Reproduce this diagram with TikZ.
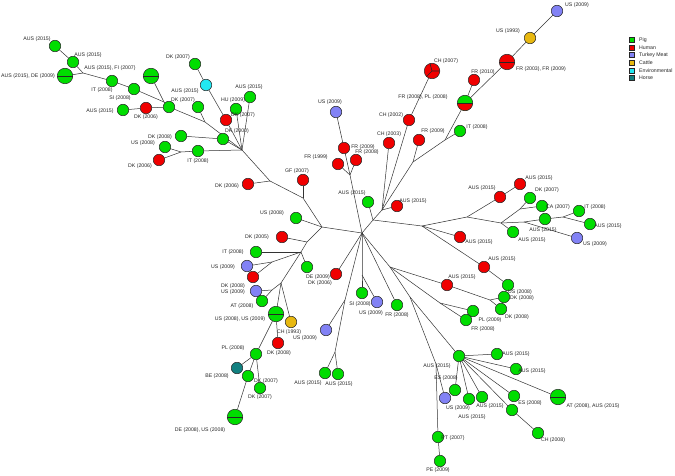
\documentclass[tikz,border=0pt]{standalone}
\usepackage{fontspec}
\setmainfont{Liberation Sans}
\usepackage{tikz}
\usetikzlibrary{backgrounds}
\definecolor{cPig}{HTML}{00DD00}
\definecolor{cHuman}{HTML}{F00000}
\definecolor{cTurkey}{HTML}{8282F5}
\definecolor{cCattle}{HTML}{E8B810}
\definecolor{cEnv}{HTML}{22E8F2}
\definecolor{cHorse}{HTML}{118080}

\begin{document}
\begin{tikzpicture}[x=1pt, y=-1pt,
  vtx/.style={circle, draw=black!85, line width=0.5pt, minimum size=11.5pt, inner sep=0pt},
  big/.style={minimum size=15.5pt},
  pig/.style={vtx, fill=cPig},
  human/.style={vtx, fill=cHuman},
  turkey/.style={vtx, fill=cTurkey},
  cattle/.style={vtx, fill=cCattle},
  env/.style={vtx, fill=cEnv},
  horse/.style={vtx, fill=cHorse},
  lbl/.style={font=\fontsize{5.2}{6}\selectfont, inner sep=0pt, text=black!85},
  link/.style={black!80, line width=0.5pt},
  cut/.style={black!85, line width=0.6pt},
  legbox/.style={draw=black!85, line width=0.4pt, minimum size=5pt, inner sep=0pt}
]
\useasboundingbox (0,0) rectangle (675,476);

% upper left branch
\node[pig] (a1) at (55,46) {};
\node[pig] (a2) at (73,62) {};
\node[pig, big] (a3) at (65,76) {};
\coordinate (ja1) at (83,73);
\node[pig] (a4) at (112,81) {};
\node[pig, big] (a5) at (151,76) {};
\node[pig] (a6) at (134,89) {};
\coordinate (ja2) at (164,102);
\node[pig] (a7) at (169,107) {};
\node[human] (a8) at (146,108) {};
\node[pig] (a9) at (123,110) {};
\node[pig] (a10) at (198,107) {};
\coordinate (ja3) at (205,122);
\node[pig] (a11) at (195,64) {};
\node[env] (a12) at (206,85) {};
\node[human] (a13) at (226,120) {};
\node[pig] (a14) at (236,109) {};
\node[pig] (a15) at (250,97) {};
\coordinate (ja4) at (242,150);
\node[pig] (a16) at (223,139) {};
\node[pig] (a17) at (181,136) {};
\node[pig] (a18) at (165,147) {};
\node[human] (a19) at (159,160) {};
\coordinate (ja5) at (181,152);
\node[pig] (a20) at (198,151) {};

\node[lbl] (a1t) at (37,39) {AUS (2015)};
\node[lbl] (a2t) at (88,55) {AUS (2015)};
\node[lbl] (a3t) at (28,76) {AUS (2015), DE (2009)};
\node[lbl] (a4t) at (102,90) {IT (2008)};
\node[lbl] (a5t) at (110,68) {AUS (2015), FI (2007)};
\node[lbl] (a6t) at (120,98) {SI (2008)};
\node[lbl] (a7t) at (183,100) {DK (2007)};
\node[lbl] (a8t) at (146,117) {DK (2006)};
\node[lbl] (a9t) at (100,111) {AUS (2015)};
\node[lbl] (a10t) at (185,91) {AUS (2015)};
\node[lbl] (a11t) at (178,57) {DK (2007)};
\node[lbl] (a13t) at (243,115) {DK (2007)};
\node[lbl] (a14t) at (233,100) {HU (2009)};
\node[lbl] (a15t) at (249,87) {AUS (2015)};
\node[lbl] (a16t) at (237,131) {DK (2000)};
\node[lbl] (a17t) at (160,137) {DK (2008)};
\node[lbl] (a18t) at (143,143) {US (2008)};
\node[lbl] (a19t) at (140,166) {DK (2006)};
\node[lbl] (a20t) at (198,161) {IT (2008)};

% left middle branch
\coordinate (ja6) at (270,181);
\node[human] (a21) at (248,184) {};
\coordinate (ja7) at (303,198);
\node[human] (a22) at (303,180) {};
\coordinate (ja8) at (322,227);
\node[pig] (a23) at (296,218) {};
\coordinate (ja9) at (307,242);
\node[human] (a24) at (282,237) {};
\coordinate (ja10) at (301,252);
\node[pig] (a25) at (256,252) {};
\coordinate (ja11) at (272,262);
\node[turkey] (a26) at (247,266) {};
\node[human] (a27) at (253,277) {};
\node[pig] (a28) at (307,267) {};
\node[human] (a29) at (336,274) {};
\coordinate (ja12) at (281,283);
\coordinate (ja13) at (272,290);
\node[turkey] (a30) at (256,291) {};
\node[pig] (a31) at (262,301) {};
\node[pig, big] (a32) at (276,314) {};
\node[cattle] (a33) at (291,322) {};
\node[human] (a34) at (278,343) {};
\node[pig] (a35) at (256,354) {};
\node[horse] (a36) at (237,368) {};
\node[pig] (a37) at (248,376) {};
\node[pig] (a38) at (260,388) {};
\node[pig, big] (a39) at (235,417) {};

\node[lbl] (a21t) at (227,186) {DK (2006)};
\node[lbl] (a22t) at (297,171) {GF (2007)};
\node[lbl] (a23t) at (272,213) {US (2008)};
\node[lbl] (a24t) at (257,237) {DK (2005)};
\node[lbl] (a25t) at (233,252) {IT (2008)};
\node[lbl] (a26t) at (223,267) {US (2009)};
\node[lbl] (a28t) at (318,277) {DE (2009)};
\node[lbl] (a29t) at (320,283) {DK (2006)};
\node[lbl] (a30t) at (233,286) {DK (2008)};
\node[lbl] (a30u) at (233,292) {US (2009)};
\node[lbl] (a31t) at (242,306) {AT (2008)};
\node[lbl] (a32t) at (240,319) {US (2008), US (2009)};
\node[lbl] (a33t) at (289,332) {CH (1993)};
\node[lbl] (a34t) at (279,353) {DK (2008)};
\node[lbl] (a35t) at (233,348) {PL (2008)};
\node[lbl] (a36t) at (217,376) {BE (2008)};
\node[lbl] (a37t) at (266,381) {DK (2007)};
\node[lbl] (a38t) at (260,397) {DK (2007)};
\node[lbl] (a39t) at (200,430) {DE (2008), US (2008)};

% centre and upper branches
\coordinate (C) at (362,233);
\node[turkey] (b1) at (336,112) {};
\node[human] (b2) at (344,148) {};
\node[human] (b3) at (338,164) {};
\node[human] (b4) at (356,160) {};
\coordinate (jb1) at (350,175);
\node[pig] (b5) at (368,202) {};
\coordinate (jb2) at (373,220);
\node[human] (b6) at (397,206) {};
\coordinate (jb3) at (382,210);
\node[human] (b7) at (389,143) {};
\node[human] (b8) at (409,120) {};
\node[human, big] (b9) at (432,71) {};
\coordinate (jb4) at (413,162);
\node[human] (b10) at (419,140) {};
\coordinate (jb5) at (445,140);
\node[pig] (b11) at (460,131) {};
\node[vtx, big, fill=cPig, path picture={
  \fill[cHuman] (path picture bounding box.west) rectangle (path picture bounding box.south east);}]
  (b12) at (465,103) {};
\node[human] (b13) at (474,80) {};
\node[human, big] (b14) at (507,62) {};
\node[cattle] (b15) at (530,38) {};
\node[turkey] (b16) at (557,11) {};

\node[lbl] (b1t) at (330,102) {US (2009)};
\node[lbl] (b2t) at (363,147) {FR (2009)};
\node[lbl] (b3t) at (316,157) {FR (1999)};
\node[lbl] (b4t) at (367,152) {FR (2008)};
\node[lbl] (b5t) at (352,193) {AUS (2015)};
\node[lbl] (b6t) at (413,201) {AUS (2015)};
\node[lbl] (b7t) at (389,134) {CH (2003)};
\node[lbl] (b8t) at (391,115) {CH (2002)};
\node[lbl] (b9t) at (446,61) {CH (2007)};
\node[lbl] (b10t) at (433,131) {FR (2009)};
\node[lbl] (b11t) at (477,127) {IT (2008)};
\node[lbl] (b12t) at (423,97) {FR (2008), PL (2008)};
\node[lbl] (b13t) at (483,72) {FR (2010)};
\node[lbl] (b14t) at (541,69) {FR (2003), FR (2009)};
\node[lbl] (b15t) at (508,31) {US (1993)};
\node[lbl] (b16t) at (577,5) {US (2009)};

% right branch
\coordinate (jc1) at (422,226);
\coordinate (jc2) at (467,217);
\node[human] (c1) at (500,197) {};
\node[human] (c2) at (520,184) {};
\coordinate (jc3) at (501,223);
\coordinate (jc4) at (520,209);
\node[pig] (c3) at (530,198) {};
\node[pig] (c4) at (542,206) {};
\node[pig] (c5) at (545,219) {};
\node[pig] (c6) at (513,232) {};
\coordinate (jc5) at (563,217);
\coordinate (jc6) at (524,222);
\node[pig] (c7) at (579,211) {};
\node[pig] (c8) at (590,224) {};
\node[turkey] (c9) at (577,238) {};
\node[human] (c10) at (460,237) {};
\node[human] (c11) at (484,267) {};
\node[pig] (c12) at (508,285) {};

\node[lbl] (c1t) at (482,188) {AUS (2015)};
\node[lbl] (c2t) at (539,178) {AUS (2015)};
\node[lbl] (c3t) at (547,190) {DK (2007)};
\node[lbl] (c4t) at (558,207) {CA (2007)};
\node[lbl] (c5t) at (543,230) {AUS (2015)};
\node[lbl] (c6t) at (532,240) {AUS (2015)};
\node[lbl] (c7t) at (595,207) {IT (2008)};
\node[lbl] (c8t) at (608,226) {AUS (2015)};
\node[lbl] (c9t) at (595,244) {US (2009)};
\node[lbl] (c10t) at (479,242) {AUS (2015)};
\node[lbl] (c11t) at (502,259) {AUS (2015)};
\node[lbl] (c12t) at (520,292) {US (2008)};

% lower right branch
\coordinate (jd1) at (390,267);
\node[human] (d1) at (447,285) {};
\coordinate (jd2) at (490,300);
\node[pig] (d2) at (504,297) {};
\node[pig] (d3) at (501,309) {};
\coordinate (jd3) at (440,303);
\node[pig] (d4) at (473,311) {};
\node[pig] (d5) at (466,320) {};
\node[pig] (d6) at (397,305) {};
\coordinate (jd5) at (410,297);
\coordinate (jd4) at (436,364);
\node[pig] (e1) at (459,356) {};
\node[pig] (e2) at (497,354) {};
\node[pig] (e3) at (516,369) {};
\node[pig, big] (e4) at (558,397) {};
\node[pig] (e5) at (514,396) {};
\node[pig] (e6) at (512,410) {};
\node[pig] (e7) at (538,433) {};
\node[pig] (e8) at (482,397) {};
\node[pig] (e9) at (469,399) {};
\node[pig] (e10) at (455,390) {};
\node[turkey] (e11) at (445,398) {};
\node[pig] (e12) at (438,437) {};
\node[pig] (e13) at (440,461) {};

\node[lbl] (d1t) at (462,277) {AUS (2015)};
\node[lbl] (d2t) at (522,298) {DK (2008)};
\node[lbl] (d3t) at (517,317) {DK (2008)};
\node[lbl] (d4t) at (490,320) {PL (2009)};
\node[lbl] (d5t) at (483,329) {FR (2008)};
\node[lbl] (d6t) at (397,315) {FR (2008)};
\node[lbl] (e1t) at (437,366) {AUS (2015)};
\node[lbl] (e2t) at (516,354) {AUS (2015)};
\node[lbl] (e3t) at (532,371) {AUS (2015)};
\node[lbl] (e4t) at (593,406) {AT (2008), AUS (2015)};
\node[lbl] (e5t) at (530,403) {ES (2008)};
\node[lbl] (e7t) at (553,440) {CH (2008)};
\node[lbl] (e8t) at (490,406) {AUS (2015)};
\node[lbl] (e9t) at (472,417) {AUS (2015)};
\node[lbl] (e10t) at (446,378) {ES (2008)};
\node[lbl] (e11t) at (458,408) {US (2009)};
\node[lbl] (e12t) at (453,438) {PT (2007)};
\node[lbl] (e13t) at (438,470) {PE (2009)};

% lower centre branch
\coordinate (jf1) at (362,275);
\node[pig] (f1) at (362,293) {};
\node[turkey] (f2) at (377,302) {};
\coordinate (jf4) at (345,300);
\node[turkey] (f3) at (326,330) {};
\coordinate (jf3) at (335,352);
\node[pig] (f4) at (325,373) {};
\node[pig] (f5) at (338,374) {};

\node[lbl] (f1t) at (360,304) {SI (2008)};
\node[lbl] (f2t) at (371,313) {US (2009)};
\node[lbl] (f3t) at (305,338) {US (2009)};
\node[lbl] (f4t) at (308,383) {AUS (2015)};
\node[lbl] (f5t) at (339,384) {AUS (2015)};

% split marks
\draw[cut] (a3.west) -- (a3.east);
\draw[cut] (a5.west) -- (a5.east);
\draw[cut] (a32.west) -- (a32.east);
\draw[cut] (a39.west) -- (a39.east);
\draw[cut] (b12.west) -- (b12.east);
\draw[cut] (b14.west) -- (b14.east);
\draw[cut] (e4.west) -- (e4.east);
\draw[cut] (b9.center) -- (b9.0) (b9.center) -- (b9.105) (b9.center) -- (b9.225);

% connectors
\begin{scope}[on background layer]
\draw[link] (a1) -- (a2) -- (ja1) -- (a4) -- (a6) -- (ja2) -- (a7);
\draw[link] (a3) -- (ja1);
\draw[link] (a5) -- (ja2);
\draw[link] (a9) -- (a8) -- (a7) -- (ja3) -- (ja4);
\draw[link] (a10) -- (ja3);
\draw[link] (a11) -- (a12) -- (a13) -- (ja4);
\draw[link] (a14) -- (ja4);
\draw[link] (a15) -- (ja4);
\draw[link] (a17) -- (a16) -- (ja4);
\draw[link] (a18) -- (ja5);
\draw[link] (a19) -- (ja5) -- (a20) -- (ja4);
\draw[link] (ja4) -- (ja6) -- (ja7) -- (ja8) -- (C);
\draw[link] (a21) -- (ja6);
\draw[link] (a22) -- (ja7);
\draw[link] (a23) -- (ja8);
\draw[link] (ja8) -- (ja9) -- (ja10) -- (ja12);
\draw[link] (a24) -- (ja9);
\draw[link] (a25) -- (ja10);
\draw[link] (a28) -- (ja10);
\draw[link] (ja10) -- (ja11) -- (a26);
\draw[link] (a27) -- (ja11);
\draw[link] (ja12) -- (ja13) -- (a30);
\draw[link] (a31) -- (ja13);
\draw[link] (ja12) -- (a32) -- (a34);
\draw[link] (ja12) -- (a33);
\draw[link] (a32) -- (a35) -- (a36);
\draw[link] (a35) -- (a37) -- (a39);
\draw[link] (a35) -- (a38);
\draw[link] (a29) -- (C);

\draw[link] (C) -- (jb1) -- (b2) -- (b1);
\draw[link] (jb1) -- (b3);
\draw[link] (jb1) -- (b4);
\draw[link] (C) -- (jb2) -- (b5);
\draw[link] (jb2) -- (jb3) -- (b6);
\draw[link] (jb3) -- (b7);
\draw[link] (jb3) -- (b8) -- (b9);
\draw[link] (jb3) -- (jb4) -- (b10);
\draw[link] (jb4) -- (jb5) -- (b11);
\draw[link] (jb5) -- (b12) -- (b13);
\draw[link] (b12) -- (b14) -- (b15) -- (b16);

\draw[link] (jb2) -- (jc1) -- (jc2) -- (c1) -- (c2);
\draw[link] (jc2) -- (jc3) -- (jc4) -- (c3);
\draw[link] (jc4) -- (c4);
\draw[link] (jc3) -- (jc6) -- (c5) -- (jc5) -- (c7);
\draw[link] (jc5) -- (c8);
\draw[link] (jc6) -- (c9);
\draw[link] (jc3) -- (c6);
\draw[link] (jc1) -- (c10);
\draw[link] (jc1) -- (c11) -- (c12);

\draw[link] (C) -- (jd1) -- (d1) -- (jd2) -- (d2);
\draw[link] (jd2) -- (d3);
\draw[link] (jd1) -- (jd3) -- (d4);
\draw[link] (jd3) -- (d5);
\draw[link] (C) -- (d6);
\draw[link] (jd1) -- (jd5) -- (e1);
\draw[link] (jd5) -- (jd4) -- (e12) -- (e13);
\draw[link] (jd4) -- (e11);
\draw[link] (e1) -- (e2);
\draw[link] (e1) -- (e3);
\draw[link] (e1) -- (e4);
\draw[link] (e1) -- (e5);
\draw[link] (e1) -- (e6) -- (e7);
\draw[link] (e1) -- (e8);
\draw[link] (e1) -- (e9);
\draw[link] (e1) -- (e10);

\draw[link] (C) -- (jf1) -- (f1);
\draw[link] (jf1) -- (f2);
\draw[link] (C) -- (jf4) -- (f3);
\draw[link] (jf4) -- (jf3) -- (f4);
\draw[link] (jf3) -- (f5);
\end{scope}

% legend
\foreach \c/\t [count=\i] in {cPig/Pig, cHuman/Human, cTurkey/Turkey Meat,
    cCattle/Cattle, cEnv/Environmental, cHorse/Horse} {
  \node[legbox, fill=\c] (leg\i) at (632, 32.4+7.6*\i) {};
  \node[lbl, anchor=west] (legt\i) at (639, 32.4+7.6*\i) {\t};
}
\end{tikzpicture}
\end{document}
